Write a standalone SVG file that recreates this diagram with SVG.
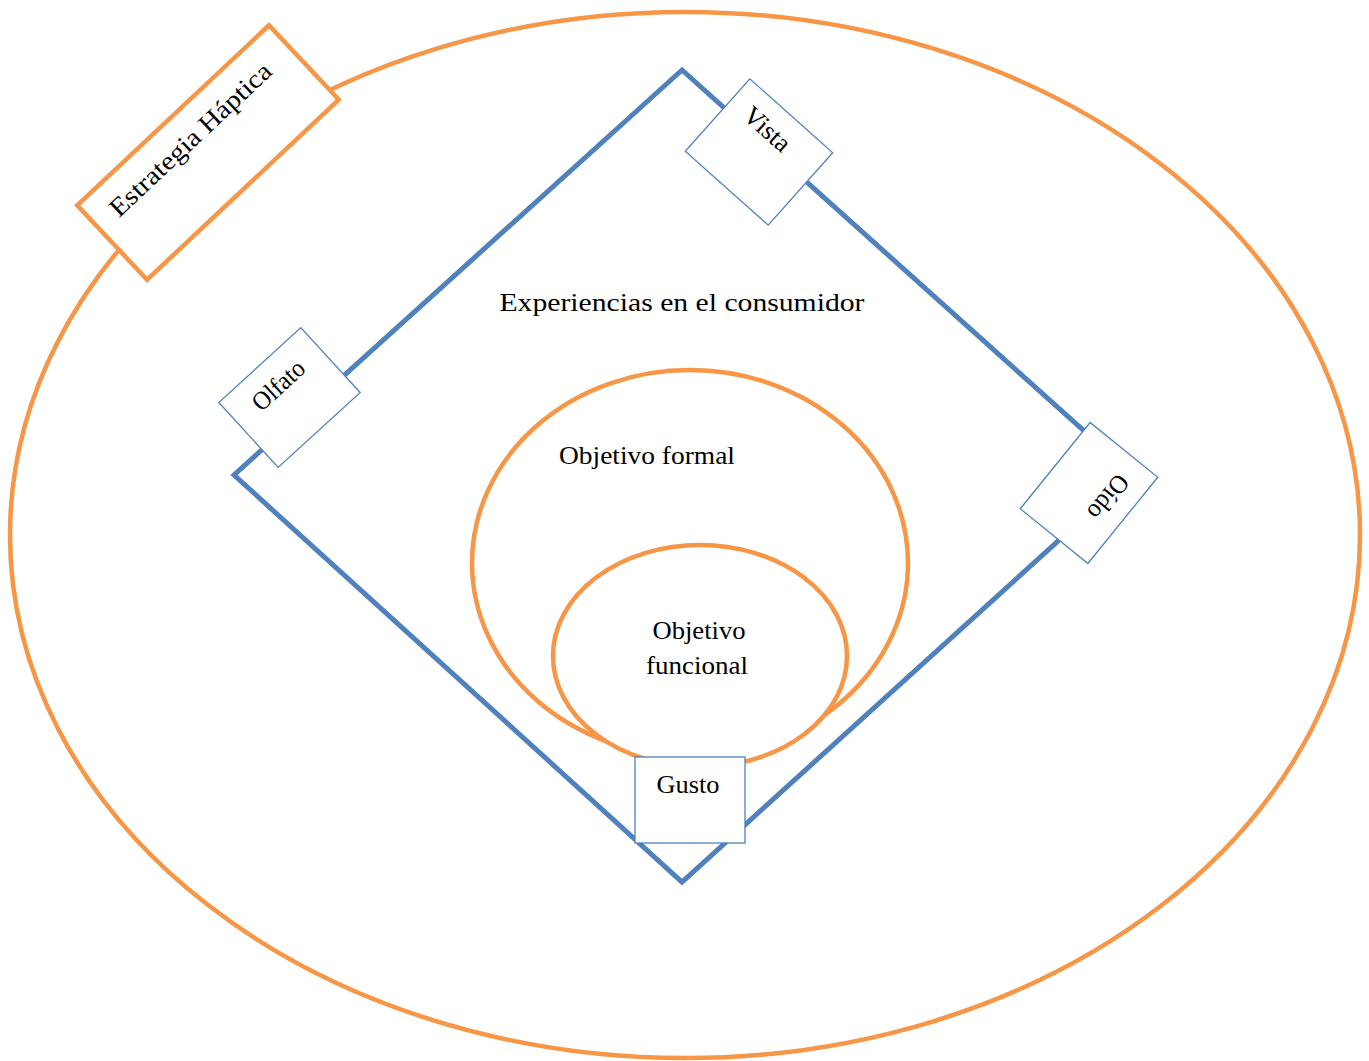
<svg xmlns="http://www.w3.org/2000/svg" width="1369" height="1061" viewBox="0 0 1369 1061">
  <style>
    .orange { fill: none; stroke: #F79646; stroke-width: 4.5; }
    .orangefill { fill: #ffffff; stroke: #F79646; stroke-width: 4.5; }
    .orangebox { fill: #ffffff; stroke: #F79646; stroke-width: 4.5; stroke-linejoin: miter; }
    .blue { fill: none; stroke: #4F81BD; stroke-width: 5; stroke-linejoin: miter; }
    .sense { fill: #ffffff; stroke: #4F81BD; stroke-width: 1.3; }
    .lbl { font-family: "Liberation Serif", "DejaVu Serif", serif; font-size: 26px; fill: #000000; }
  </style>
  <rect width="1369" height="1061" fill="#ffffff"/>

  <!-- outer boundary: haptic strategy -->
  <g id="outer-ellipse">
    <ellipse class="orange" cx="685" cy="535" rx="675" ry="523"/>
  </g>

  <!-- connectors: the sensory diamond -->
  <g id="connectors">
    <polygon class="blue" points="682,70 1132,474 682,882 234,475"/>
  </g>

  <g id="experiencias">
    <text class="lbl" x="682" y="311" text-anchor="middle" textLength="365" lengthAdjust="spacingAndGlyphs">Experiencias en el consumidor</text>
  </g>

  <g id="objetivo-formal">
    <ellipse class="orange" cx="690" cy="563" rx="218" ry="193"/>
    <text class="lbl" x="647" y="464" text-anchor="middle" textLength="176" lengthAdjust="spacingAndGlyphs">Objetivo formal</text>
  </g>

  <!-- inner goal: white fill hides the formal ellipse's lower arc -->
  <g id="objetivo-funcional">
    <ellipse class="orangefill" cx="700" cy="656" rx="147" ry="111"/>
    <text class="lbl" x="699" y="639" text-anchor="middle" textLength="93" lengthAdjust="spacingAndGlyphs">Objetivo</text>
    <text class="lbl" x="697" y="674" text-anchor="middle" textLength="102" lengthAdjust="spacingAndGlyphs">funcional</text>
  </g>

  <g id="estrategia-haptica" transform="translate(208,152.5) rotate(-43.2)">
    <rect class="orangebox" x="-131.5" y="-51" width="263" height="102"/>
    <text class="lbl" x="-4" y="-13" text-anchor="middle" textLength="212" lengthAdjust="spacingAndGlyphs">Estrategia Háptica</text>
  </g>

  <g id="vista" transform="translate(759,152) rotate(41.7)">
    <rect class="sense" x="-55.5" y="-48.5" width="111" height="97"/>
    <text class="lbl" x="-9" y="-14" text-anchor="middle" textLength="54" lengthAdjust="spacingAndGlyphs">Vista</text>
  </g>

  <g id="olfato" transform="translate(289.5,397.5) rotate(-42.4)">
    <rect class="sense" x="-55.5" y="-44" width="111" height="88"/>
    <text class="lbl" x="0" y="-8" text-anchor="middle" textLength="62" lengthAdjust="spacingAndGlyphs">Olfato</text>
  </g>

  <g id="oido" transform="translate(1089,493) rotate(129)">
    <rect class="sense" x="-55.5" y="-43.5" width="111" height="87"/>
    <text class="lbl" x="-9" y="-9" text-anchor="middle" textLength="50" lengthAdjust="spacingAndGlyphs">Oído</text>
  </g>

  <g id="gusto">
    <rect class="sense" x="635" y="757" width="110" height="86"/>
    <text class="lbl" x="688" y="793" text-anchor="middle" textLength="63" lengthAdjust="spacingAndGlyphs">Gusto</text>
  </g>
</svg>
